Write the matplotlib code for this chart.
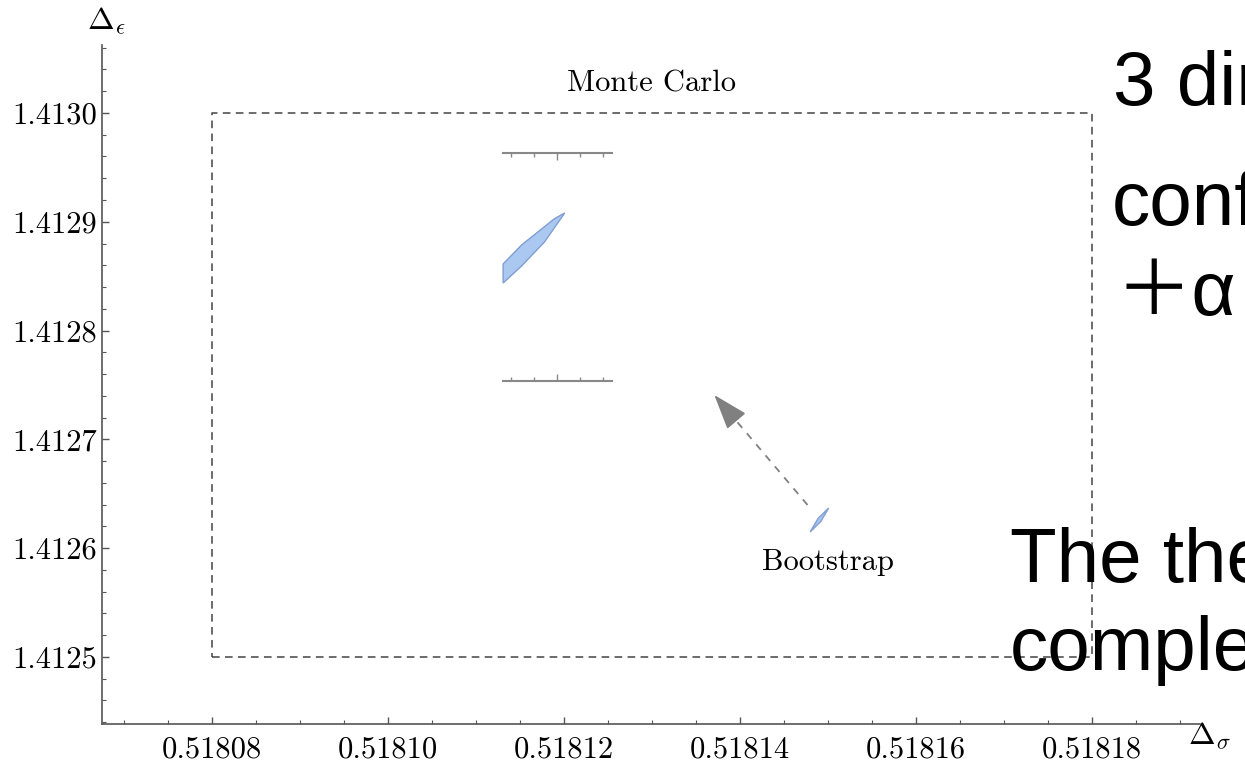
import numpy as np
import matplotlib
matplotlib.use('Agg')
import matplotlib.pyplot as plt
from matplotlib.ticker import MultipleLocator

# Tick values and labels
xTicks = [0.51808, 0.51810, 0.51812, 0.51814, 0.51816, 0.51818]
xTickLabels = ['0.51808', '0.51810', '0.51812', '0.51814', '0.51816', '0.51818']
yTicks = [1.4125, 1.4126, 1.4127, 1.4128, 1.4129, 1.4130]
yTickLabels = ['1.4125', '1.4126', '1.4127', '1.4128', '1.4129', '1.4130']

# Monte Carlo box (x range, y range)
mcBoxX = [0.51808, 0.51818]
mcBoxY = [1.4125, 1.4130]

# Monte Carlo allowed region (clipped at the left)
mcRegionX = [0.5181131, 0.5181152, 0.5181189, 0.5181201, 0.5181178, 0.5181152, 0.5181131]
mcRegionY = [1.4128612, 1.4128787, 1.4129026, 1.4129081, 1.4128814, 1.4128594, 1.4128437]

# Frame lines above and below the region
frameX = [0.5181131, 0.5181255]
frameY = [1.4129632, 1.4127537]
frameTickX = [0.5181140, 0.5181166, 0.5181192, 0.5181218, 0.5181244]

# Bootstrap region
bootX = [0.5181480, 0.5181492, 0.5181501, 0.5181489]
bootY = [1.4126149, 1.4126245, 1.4126369, 1.4126273]

# Arrow from bootstrap towards Monte Carlo region
arrowTail = (0.5181477, 1.4126397)
arrowTip = (0.5181371, 1.4127408)

plt.rcParams['font.family'] = 'cmr10'
plt.rcParams['mathtext.fontset'] = 'cm'
plt.rcParams['axes.formatter.use_mathtext'] = True

fig = plt.figure(figsize=(12.45, 7.62), dpi=100)
ax = fig.add_axes([0.0819, 0.0499, 0.8819, 0.8911])
ax.set_xlim(0.5180675, 0.5181923)
ax.set_ylim(1.4124384, 1.4130625)

spineColor = '#555555'
for side in ['top', 'right']:
    ax.spines[side].set_visible(False)
for side in ['left', 'bottom']:
    ax.spines[side].set_color(spineColor)
    ax.spines[side].set_linewidth(1.2)

ax.set_xticks(xTicks)
ax.set_xticklabels(xTickLabels)
ax.set_yticks(yTicks)
ax.set_yticklabels(yTickLabels)
ax.xaxis.set_minor_locator(MultipleLocator(0.000005))
ax.yaxis.set_minor_locator(MultipleLocator(0.00002))
ax.tick_params(which='both', direction='in', color=spineColor, labelsize=22)
ax.tick_params(which='major', length=5, width=1)
ax.tick_params(which='minor', length=3, width=0.8)
ax.tick_params(axis='x', pad=9)
ax.tick_params(axis='y', pad=3.5)

# Monte Carlo box
ax.plot([mcBoxX[0], mcBoxX[1], mcBoxX[1], mcBoxX[0], mcBoxX[0]],
        [mcBoxY[0], mcBoxY[0], mcBoxY[1], mcBoxY[1], mcBoxY[0]],
        linestyle=(0, (5, 3.5)), color='#444444', linewidth=1.1)
ax.text(np.mean(mcBoxX), 1.4130193, 'Monte Carlo', ha='center', va='baseline', fontsize=22)

# frame lines and tick marks
ax.plot(frameX, [frameY[0], frameY[0]], color='#888888', linewidth=1.5)
ax.plot(frameX, [frameY[1], frameY[1]], color='#888888', linewidth=1.5)
for i, tx in enumerate(frameTickX):
    ms = 5 if i == 2 else 3
    ax.plot(tx, frameY[0], marker=3, color='#888888', markersize=ms, markeredgewidth=1)
    ax.plot(tx, frameY[1], marker=2, color='#888888', markersize=ms, markeredgewidth=1)

# regions
ax.fill(mcRegionX, mcRegionY, facecolor='#abc8f0', edgecolor='#7f9ed2', linewidth=1)
ax.fill(bootX, bootY, facecolor='#abc8f0', edgecolor='#7f9ed2', linewidth=1)
ax.text(0.51815, 1.4125800, 'Bootstrap', ha='center', va='baseline', fontsize=22)

# arrow: dashed shaft + solid head
frac = 0.84
neck = (arrowTail[0] + frac * (arrowTip[0] - arrowTail[0]),
        arrowTail[1] + frac * (arrowTip[1] - arrowTail[1]))
ax.plot([arrowTail[0], neck[0]], [arrowTail[1], neck[1]], color='#808080',
        linestyle=(0, (4, 4)), linewidth=1.3)
ax.annotate('', xy=arrowTip, xytext=neck,
            arrowprops=dict(arrowstyle='-|>,head_length=1.1,head_width=0.38',
                            color='#808080', linewidth=1.3, shrinkA=0, shrinkB=0,
                            mutation_scale=20))

# axis labels at the ends of the axes
fig.text(0.0695, 1 - 30 / 762, r'$\Delta_\epsilon$', fontsize=23, va='baseline')
fig.text(0.9540, 1 - 745 / 762, r'$\Delta_\sigma$', fontsize=23, va='baseline')

# overlay slide text on the right
big = dict(family=['Liberation Sans', 'Noto Sans CJK JP'], fontsize=55, va='baseline', color='black')
fig.text(1113 / 1245, 1 - 105 / 762, '3 dimensional', **big)
fig.text(1112 / 1245, 1 - 225 / 762, 'conformal', **big)
fig.text(1116 / 1245, 1 - 315 / 762, '＋α', **big)
fig.text(1010 / 1245, 1 - 582 / 762, 'The theory', **big)
fig.text(1010 / 1245, 1 - 670 / 762, 'complete', **big)

fig.savefig('out.png', dpi=100)
